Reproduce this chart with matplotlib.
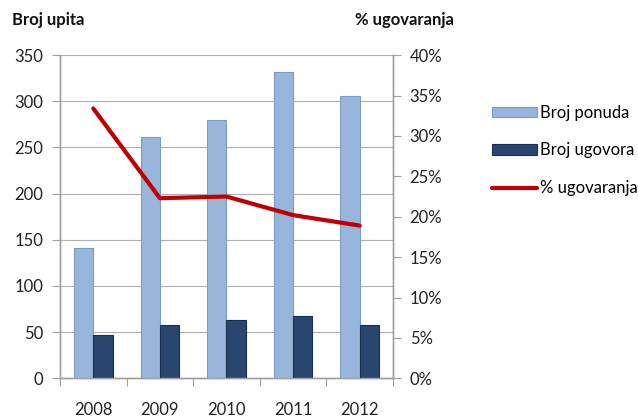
import numpy as np
import matplotlib
matplotlib.use("Agg")
import matplotlib.pyplot as plt
from matplotlib.ticker import FuncFormatter, MultipleLocator

# data
years = ["2008", "2009", "2010", "2011", "2012"]
broj_ponuda = [141, 261, 280, 332, 306]
broj_ugovora = [47, 58, 63, 67, 58]
pct_ugovaranja = [33.4, 22.3, 22.5, 20.2, 18.9]

plt.rcParams["font.family"] = ["Lato", "DejaVu Sans"]

fig = plt.figure(figsize=(6.38, 4.18), dpi=100)
ax = fig.add_axes([0.094, 0.095, 0.522, 0.773])
ax2 = ax.twinx()

x = np.arange(len(years))
w = 0.29

ax.bar(x - w / 2, broj_ponuda, w, color="#98B6DC", edgecolor="#7A9CC8",
       linewidth=0.8, label="Broj ponuda", zorder=3)
ax.bar(x + w / 2, broj_ugovora, w, color="#284670", edgecolor="#1A2F4D",
       linewidth=0.8, label="Broj ugovora", zorder=3)
ax2.plot(x, pct_ugovaranja, color="#C00000", linewidth=3,
         solid_capstyle="round", label="% ugovaranja", zorder=4)

gray = "#A0A0A0"
ax.set_xlim(-0.5, len(years) - 0.5)
ax.set_ylim(0, 350)
ax.yaxis.set_major_locator(MultipleLocator(50))
ax.grid(axis="y", color="#B0B0B0", linewidth=0.8, zorder=0)
ax.set_axisbelow(True)

ax2.set_ylim(0, 40)
ax2.yaxis.set_major_locator(MultipleLocator(5))
ax2.yaxis.set_major_formatter(FuncFormatter(lambda v, p: f"{v:.0f}%"))

# category boundary ticks on x axis
ax.set_xticks(np.arange(-0.5, len(years), 1.0))
ax.set_xticklabels([])
ax.set_xticks(x, minor=True)
ax.set_xticklabels(years, minor=True)
ax.tick_params(axis="x", which="major", length=6, color=gray, direction="out")
ax.tick_params(axis="x", which="minor", length=0, pad=17, labelsize=12,
               labelcolor="#222222")
ax.tick_params(axis="y", length=6, color=gray, labelsize=12,
               labelcolor="#222222", pad=6)
ax2.tick_params(axis="y", length=6, color=gray, labelsize=12,
                labelcolor="#222222", pad=6)

for a in (ax, ax2):
    a.spines["top"].set_visible(False)
    for s in ("left", "right", "bottom"):
        a.spines[s].set_color(gray)
        a.spines[s].set_linewidth(1.0)

fig.text(0.019, 0.952, "Broj upita", fontsize=12, fontweight="bold",
         ha="left", va="center", color="#111111")
fig.text(0.557, 0.952, "% ugovaranja", fontsize=12, fontweight="bold",
         ha="left", va="center", color="#111111")

h1, l1 = ax.get_legend_handles_labels()
h2, l2 = ax2.get_legend_handles_labels()
fig.legend(h1 + h2, l1 + l2, loc="center left", bbox_to_anchor=(0.748, 0.64),
           frameon=False, fontsize=12, handlelength=2.7, handleheight=0.6,
           labelspacing=1.3, handletextpad=0.15)

fig.savefig("out.png", dpi=100)
